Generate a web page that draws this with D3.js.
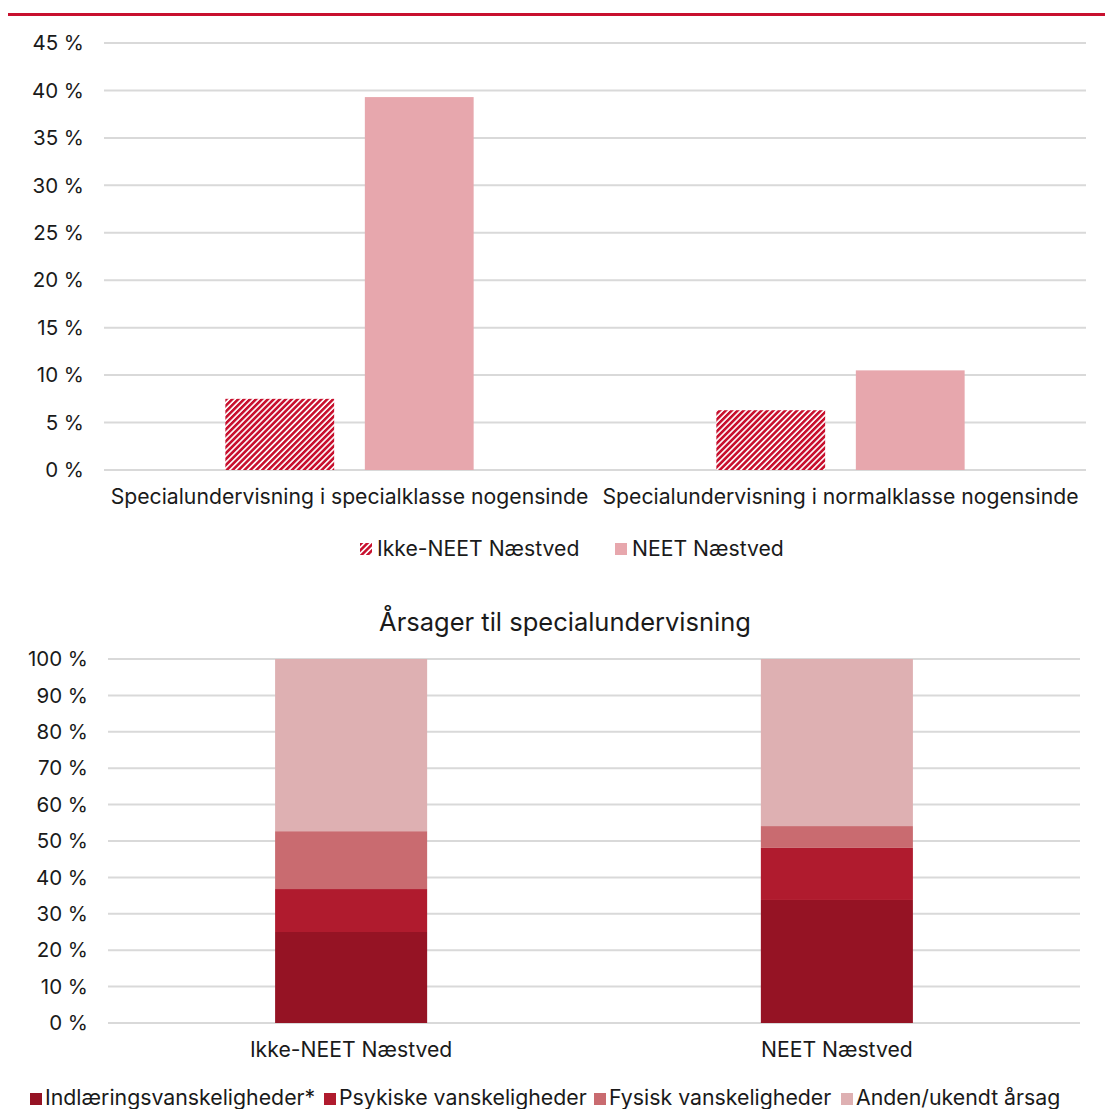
<!DOCTYPE html>
<html><head><meta charset="utf-8">
<script src="https://cdn.jsdelivr.net/npm/d3@7"></script>
<style>body{margin:0;background:#fff}svg{display:block;font-family:Inter,"Noto Sans",sans-serif}</style>
</head><body><svg id="c" width="1105" height="1109"></svg>
<script>
// Top chart data
const topCategories = ["Specialundervisning i specialklasse nogensinde", "Specialundervisning i normalklasse nogensinde"];
const topSeries = ["Ikke-NEET Næstved", "NEET Næstved"];
const topIkke = [7.5, 6.3];
const topNeet = [39.3, 10.5];
const topTicks = [0,5,10,15,20,25,30,35,40,45];

// Bottom chart data
const botCategories = ["Ikke-NEET Næstved", "NEET Næstved"];
const botSeries = ["Indlæringsvanskeligheder*", "Psykiske vanskeligheder", "Fysisk vanskeligheder", "Anden/ukendt årsag"];
const indlaering = [25.0, 33.8];
const psykiske = [11.8, 14.3];
const fysisk = [15.9, 6.0];
const anden = [47.3, 45.9];
const botTicks = [0,10,20,30,40,50,60,70,80,90,100];

const svg = d3.select("#c");
const red = "#C8102E";
const txt = "#1a1a1a";

// top red rule
svg.append("rect").attr("x",8).attr("y",13).attr("width",1097).attr("height",3).attr("fill",red);

const defs = svg.append("defs");
const pat = defs.append("pattern").attr("id","hatch").attr("patternUnits","userSpaceOnUse")
  .attr("width",4.2).attr("height",4.2).attr("patternTransform","rotate(45)");
pat.append("rect").attr("width",4.2).attr("height",4.2).attr("fill","#fff");
pat.append("rect").attr("width",2.6).attr("height",4.2).attr("fill",red);

// ---------- Top chart ----------
const tx = d3.scaleBand().domain(topCategories).range([104,1086]);
const ty = d3.scaleLinear().domain([0,45]).range([470,43]);
const tsub = d3.scaleBand().domain(topSeries).range([0,tx.bandwidth()]).paddingInner(0.22).paddingOuter(0.87);

const tg = svg.append("g");
tg.selectAll("line.g").data(topTicks).join("line")
  .attr("x1",104).attr("x2",1086).attr("y1",d=>ty(d)).attr("y2",d=>ty(d))
  .attr("stroke","#d9d9d9").attr("stroke-width",2);
tg.selectAll("text.t").data(topTicks).join("text")
  .attr("x",84).attr("y",d=>ty(d)).attr("dy","0.35em").attr("text-anchor","end")
  .attr("font-size",20.5).attr("fill",txt).text(d=>d+" %");

const topFill = {"Ikke-NEET Næstved":"url(#hatch)","NEET Næstved":"#E7A7AD"};
topCategories.forEach((c,i)=>{
  const vals = [topIkke[i], topNeet[i]];
  topSeries.forEach((s,j)=>{
    tg.append("rect").attr("x",tx(c)+tsub(s)).attr("width",tsub.bandwidth())
      .attr("y",ty(vals[j])).attr("height",ty(0)-ty(vals[j])).attr("fill",topFill[s]);
  });
});
tg.selectAll("text.c").data(topCategories).join("text")
  .attr("x",d=>tx(d)+tx.bandwidth()/2).attr("y",497).attr("dy","0.35em").attr("text-anchor","middle")
  .attr("font-size",21.2).attr("fill",txt).text(d=>d);

// top legend
const tlx = [360, 615];
topSeries.forEach((s,j)=>{
  tg.append("rect").attr("x",tlx[j]).attr("y",543).attr("width",12).attr("height",12).attr("fill",topFill[s]);
  tg.append("text").attr("x",tlx[j]+17).attr("y",549).attr("dy","0.35em").attr("font-size",21.2).attr("fill",txt).text(s);
});

// ---------- Bottom chart ----------
const bx = d3.scaleBand().domain(botCategories).range([108,1080]).paddingInner(0.687).paddingOuter(0.344);
const by = d3.scaleLinear().domain([0,100]).range([1023,659]);
const bg = svg.append("g");
bg.append("text").attr("x",565).attr("y",622).attr("dy","0.35em").attr("text-anchor","middle")
  .attr("font-size",25.5).attr("fill",txt).text("Årsager til specialundervisning");
bg.selectAll("line.g").data(botTicks).join("line")
  .attr("x1",108).attr("x2",1080).attr("y1",d=>by(d)).attr("y2",d=>by(d))
  .attr("stroke","#d9d9d9").attr("stroke-width",2);
bg.selectAll("text.t").data(botTicks).join("text")
  .attr("x",88).attr("y",d=>by(d)).attr("dy","0.35em").attr("text-anchor","end")
  .attr("font-size",20.5).attr("fill",txt).text(d=>d+" %");

const botColors = ["#951324","#B01B2E","#C96B70","#DEB0B2"];
const rows = botCategories.map((c,i)=>({cat:c, s0:indlaering[i], s1:psykiske[i], s2:fysisk[i], s3:anden[i]}));
const stack = d3.stack().keys(["s0","s1","s2","s3"])(rows);
stack.forEach((layer,k)=>{
  bg.selectAll(null).data(layer).join("rect")
    .attr("x",d=>bx(d.data.cat)).attr("width",bx.bandwidth())
    .attr("y",d=>by(d[1])).attr("height",d=>by(d[0])-by(d[1]))
    .attr("fill",botColors[k]);
});
bg.selectAll("text.c").data(botCategories).join("text")
  .attr("x",d=>bx(d)+bx.bandwidth()/2).attr("y",1050).attr("dy","0.35em").attr("text-anchor","middle")
  .attr("font-size",21.2).attr("fill",txt).text(d=>d);

const blx = [30, 324, 594, 841];
botSeries.forEach((s,j)=>{
  bg.append("rect").attr("x",blx[j]).attr("y",1093).attr("width",12).attr("height",12).attr("fill",botColors[j]);
  bg.append("text").attr("x",blx[j]+15).attr("y",1098).attr("dy","0.35em").attr("font-size",21.3).attr("fill",txt).text(s);
});
</script></body></html>
